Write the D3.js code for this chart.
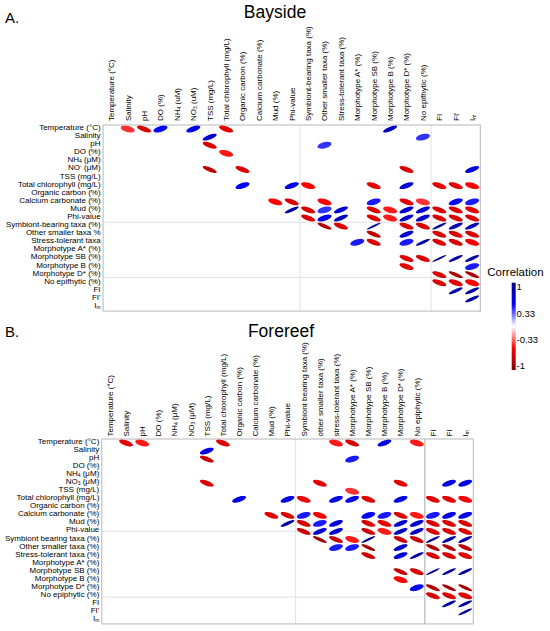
<!DOCTYPE html>
<html>
<head>
<meta charset="utf-8">
<script src="https://cdn.jsdelivr.net/npm/d3@7"></script>
<style>
  body { margin: 0; background: #fff; }
  text { font-family: "Liberation Sans", Arial, Helvetica, sans-serif; fill: #000; }
</style>
</head>
<body>
<div id="chart"></div>
<script>
// ---- labels ( _x = subscript, ^x = superscript ) ----
var baysideCols = ["Temperature (°C)", "Salinity", "pH", "DO (%)", "NH_4 (uM)", "NO_3 (uM)", "TSS (mg/L)",
  "Total chlorophyll (mg/L)", "Organic carbon (%)", "Calcium carbonate (%)", "Mud (%)", "Phi-value",
  "Symbiont-bearing taxa (%)", "Other smaller taxa (%)", "Stress-tolerant taxa (%)", "Morphotype A* (%)",
  "Morphotype SB (%)", "Morphotype B (%)", "Morphotype D* (%)", "No epifhytic (%)", "FI", "FI'", "I_m"];
var baysideRows = ["Temperature (°C)", "Salinity", "pH", "DO (%)", "NH_4 (μM)", "NO^- (μM)", "TSS (mg/L)",
  "Total chlorophyll (mg/L)", "Organic carbon (%)", "Calcium carbonate (%)", "Mud (%)", "Phi-value",
  "Symbiont-bearing taxa (%)", "Other smaller taxa %", "Stress-tolerant taxa", "Morphotype A* (%)",
  "Morphotype SB (%)", "Morphotype B (%)", "Morphotype D* (%)", "No epifhytic (%)", "FI", "FI'", "I_m"];
var forereefCols = ["Temperature (°C)", "Salinity", "pH", "DO (%)", "NH_4 (μM)", "NO_3 (μM)", "TSS (mg/L)",
  "Total chlorophyll (mg/L)", "Organic carbon (%)", "Calcium carbonate (%)", "Mud (%)", "Phi-value",
  "Symbiont bearing taxa (%)", "other smaller taxa (%)", "stress-tolerant taxa (%)", "Morphotype A* (%)",
  "Morphotype SB (%)", "Morphotype B (%)", "Morphotype D* (%)", "No epiphytic (%)", "FI", "FI", "I_m"];
var forereefRows = ["Temperature (°C)", "Salinity", "pH", "DO (%)", "NH_4 (μM)", "NO_3 (μM)", "TSS (mg/L)",
  "Total chlorophyll (mg/L)", "Organic carbon (%)", "Calcium carbonate (%)", "Mud (%)", "Phi-value",
  "Symbiont bearing taxa (%)", "Other smaller taxa (%)", "Stress-tolerant taxa (%)", "Morphotype A* (%)",
  "Morphotype SB (%)", "Morphotype B (%)", "Morphotype D* (%)", "No epiphytic (%)", "FI", "FI'", "I_m"];

// ---- significant correlations: [row, col, r] ----
var baysideCells = [
  [0,1,-0.4],[0,2,-0.65],[0,3,0.5],[0,5,0.6],[0,7,-0.6],[0,17,0.75],
  [1,6,0.7],[1,19,0.4],
  [2,6,-0.65],[2,13,0.4],
  [3,7,-0.45],
  [5,6,-0.75],[5,8,-0.65],[5,18,-0.65],[5,22,0.65],
  [7,8,0.55],[7,11,0.6],[7,12,-0.5],[7,16,-0.6],[7,18,0.65],[7,20,-0.6],[7,21,-0.6],[7,22,-0.5],
  [9,10,-0.5],[9,11,-0.65],[9,13,-0.5],[9,16,0.45],[9,18,-0.6],[9,19,-0.4],[9,21,0.55],[9,22,0.45],
  [10,11,0.85],[10,12,-0.65],[10,13,0.4],[10,14,0.7],[10,16,-0.65],[10,17,-0.45],[10,18,0.7],[10,19,0.7],[10,20,-0.65],[10,21,-0.65],[10,22,-0.6],
  [11,12,-0.65],[11,13,0.55],[11,14,0.75],[11,16,-0.65],[11,17,-0.45],[11,18,0.75],[11,19,0.7],[11,20,-0.65],[11,21,-0.65],[11,22,-0.65],
  [12,13,-0.8],[12,14,-0.65],[12,16,0.95],[12,18,-0.65],[12,19,-0.65],[12,20,0.92],[12,21,0.8],[12,22,0.8],
  [13,16,-0.75],[13,18,0.7],[13,20,-0.65],[13,21,-0.65],[13,22,-0.65],
  [14,15,0.45],[14,16,-0.65],[14,18,0.45],[14,19,0.88],[14,20,-0.65],[14,21,-0.65],[14,22,-0.55],
  [16,18,-0.65],[16,19,-0.65],[16,20,0.95],[16,21,0.88],[16,22,0.85],
  [17,18,-0.6],[17,22,0.45],
  [18,20,-0.65],[18,21,-0.82],[18,22,-0.82],
  [19,20,-0.65],[19,21,-0.6],[19,22,-0.5],
  [20,21,0.85],[20,22,0.85],
  [21,22,0.85]
];
var forereefCells = [
  [0,1,-0.6],[0,2,-0.45],[0,7,-0.6],[0,14,-0.45],[0,15,-0.65],[0,17,0.65],[0,19,-0.45],
  [1,6,0.6],
  [2,6,-0.7],[2,15,0.45],
  [5,6,-0.65],[5,13,-0.6],[5,18,-0.6],[5,21,0.6],[5,22,0.6],
  [6,15,-0.4],
  [7,8,0.6],[7,11,0.6],[7,12,-0.55],[7,14,0.6],[7,15,0.6],[7,16,-0.6],[7,18,0.6],[7,20,-0.6],[7,21,-0.6],[7,22,-0.5],
  [9,10,-0.6],[9,11,-0.65],[9,12,0.45],[9,13,-0.55],[9,16,0.5],[9,17,0.45],[9,18,-0.65],[9,19,-0.45],[9,20,0.45],[9,21,0.6],[9,22,0.6],
  [10,11,0.85],[10,12,-0.65],[10,13,0.45],[10,14,0.65],[10,16,-0.65],[10,17,-0.6],[10,18,0.7],[10,19,0.7],[10,20,-0.65],[10,21,-0.65],[10,22,-0.65],
  [11,12,-0.7],[11,13,0.7],[11,14,0.7],[11,16,-0.7],[11,17,-0.45],[11,18,0.75],[11,19,0.75],[11,20,-0.65],[11,21,-0.65],[11,22,-0.65],
  [12,13,-0.85],[12,14,-0.7],[12,15,-0.45],[12,16,0.93],[12,18,-0.7],[12,19,-0.7],[12,20,0.92],[12,21,0.85],[12,22,0.85],
  [13,14,0.45],[13,15,0.45],[13,16,-0.85],[13,18,0.7],[13,20,-0.8],[13,21,-0.8],[13,22,-0.75],
  [14,16,-0.7],[14,18,0.65],[14,19,0.88],[14,20,-0.65],[14,21,-0.65],[14,22,-0.6],
  [16,18,-0.75],[16,19,-0.65],[16,20,0.95],[16,21,0.9],[16,22,0.88],
  [17,18,-0.5],
  [18,19,0.5],[18,20,-0.8],[18,21,-0.85],[18,22,-0.85],
  [19,20,-0.65],[19,21,-0.65],[19,22,-0.6],
  [20,21,0.88],[20,22,0.88],
  [21,22,0.92]
];

var legendTicks = [1, 0.33, -0.33, -1];
var legendTickLabels = ["1", "0.33", "-0.33", "-1"];

// ---------------------------------------------------------------
var svg = d3.select("#chart").append("svg")
  .attr("width", 550)
  .attr("height", 631);

var colour = d3.scaleLinear()
  .domain([-1, -0.5, 0, 0.5, 1])
  .range(["#7f0000", "#ff0000", "#ffffff", "#0000ff", "#00007f"]);

// write a label with simple _x / ^x sub/superscripts
function richText(sel, str) {
  var parts = str.split(/([_^].)/);
  parts.forEach(function(p) {
    if (!p) return;
    if (p[0] === "_" && p.length === 2) {
      sel.append("tspan").attr("font-size", "5px").attr("baseline-shift", "-1.1").text(p[1]);
    } else if (p[0] === "^" && p.length === 2) {
      sel.append("tspan").attr("font-size", "5px").attr("baseline-shift", "2.2").text(p[1]);
    } else {
      sel.append("tspan").text(p);
    }
  });
}

var theta = d3.range(100).map(function(i) { return i / 99 * 2 * Math.PI; });
var ellLine = d3.line();

function panel(o) {
  var n = o.cols.length;
  var x = d3.scaleBand().domain(d3.range(n)).range([o.left, o.left + n * o.cw]);
  var y = d3.scaleBand().domain(d3.range(n)).range([o.top, o.top + n * o.ch]);
  var g = svg.append("g");

  // letter and title
  g.append("text").attr("x", 5).attr("y", o.letterY).attr("font-size", "15px").text(o.letter);
  g.append("text").attr("x", o.titleX).attr("y", o.titleY).attr("text-anchor", "middle")
    .attr("font-size", "17.5px").text(o.title);

  // separators
  o.vLines.forEach(function(v) {
    g.append("line").attr("x1", x(v.at)).attr("x2", x(v.at))
      .attr("y1", o.top).attr("y2", o.top + n * o.ch)
      .attr("stroke", v.c).attr("stroke-width", v.w);
  });
  o.hLines.forEach(function(h) {
    g.append("line").attr("x1", o.left).attr("x2", o.left + n * o.cw)
      .attr("y1", h).attr("y2", h).attr("stroke", "#e2e2e2").attr("stroke-width", 1);
  });
  g.append("rect").attr("x", o.left).attr("y", o.top)
    .attr("width", n * o.cw).attr("height", n * o.ch)
    .attr("fill", "none").attr("stroke", "#b8b8b8").attr("stroke-width", 1);

  // row labels
  g.selectAll(".rowlab").data(o.rows).enter().append("text")
    .attr("x", o.left - 2.5)
    .attr("y", function(d, i) { return y(i) + y.bandwidth() / 2 + 1; })
    .attr("text-anchor", "end").attr("font-size", "8px")
    .each(function(d) { richText(d3.select(this), d); });

  // column labels
  g.selectAll(".collab").data(o.cols).enter().append("text")
    .attr("transform", function(d, i) {
      return "translate(" + (x(i) + x.bandwidth() / 2 + 2.9) + "," + o.labBottom + ") rotate(-90)";
    })
    .attr("font-size", "8px")
    .each(function(d) { richText(d3.select(this), d); });

  // ellipses (corrplot style)
  g.selectAll(".ell").data(o.cells).enter().append("path")
    .attr("d", function(d) {
      var cx = x(d[1]) + x.bandwidth() / 2, cy = y(d[0]) + y.bandwidth() / 2;
      var a = Math.acos(d[2]) / 2;
      var pts = theta.map(function(t) {
        return [cx + 0.425 * x.bandwidth() * Math.cos(t + a),
                cy - 0.425 * y.bandwidth() * Math.cos(t - a)];
      });
      return ellLine(pts) + "Z";
    })
    .attr("fill", function(d) { return colour(d[2]); })
    .attr("stroke", "none");
}

panel({
  cols: baysideCols, rows: baysideRows, cells: baysideCells,
  left: 103.1, top: 125, cw: 16.4, ch: 8.09, labBottom: 121,
  letter: "A.", letterY: 23.3, title: "Bayside", titleX: 275, titleY: 18.3,
  vLines: [{at: 12, c: "#e2e2e2", w: 1}, {at: 20, c: "#e2e2e2", w: 1}],
  hLines: [222.3, 277.4]
});

panel({
  cols: forereefCols, rows: forereefRows, cells: forereefCells,
  left: 101.8, top: 439, cw: 16.15, ch: 8.04, labBottom: 436.5,
  letter: "B.", letterY: 337, title: "Forereef", titleX: 281, titleY: 337,
  vLines: [{at: 12, c: "#e2e2e2", w: 1}, {at: 20, c: "#c4c4c4", w: 1.5}],
  hLines: [531.3, 597.2]
});

// ---- colour legend ----
var defs = svg.append("defs");
var grad = defs.append("linearGradient").attr("id", "cbar")
  .attr("x1", 0).attr("y1", 0).attr("x2", 0).attr("y2", 1);
d3.range(0, 1.0001, 0.05).forEach(function(t) {
  grad.append("stop").attr("offset", t).attr("stop-color", colour(1 - 2 * t));
});
var lg = svg.append("g");
lg.append("text").attr("x", 487.3).attr("y", 276).attr("font-size", "11.5px").text("Correlation");
lg.append("rect").attr("x", 511.7).attr("y", 282.7).attr("width", 4).attr("height", 87.3)
  .attr("fill", "url(#cbar)");
var ly = d3.scaleLinear().domain([1, -1]).range([286.7, 365.5]);
lg.selectAll(".tick").data(legendTicks).enter().append("text")
  .attr("x", 516.5)
  .attr("y", function(d) { return ly(d); })
  .attr("dominant-baseline", "central")
  .attr("font-size", "9.5px")
  .text(function(d, i) { return legendTickLabels[i]; });
</script>
</body>
</html>
